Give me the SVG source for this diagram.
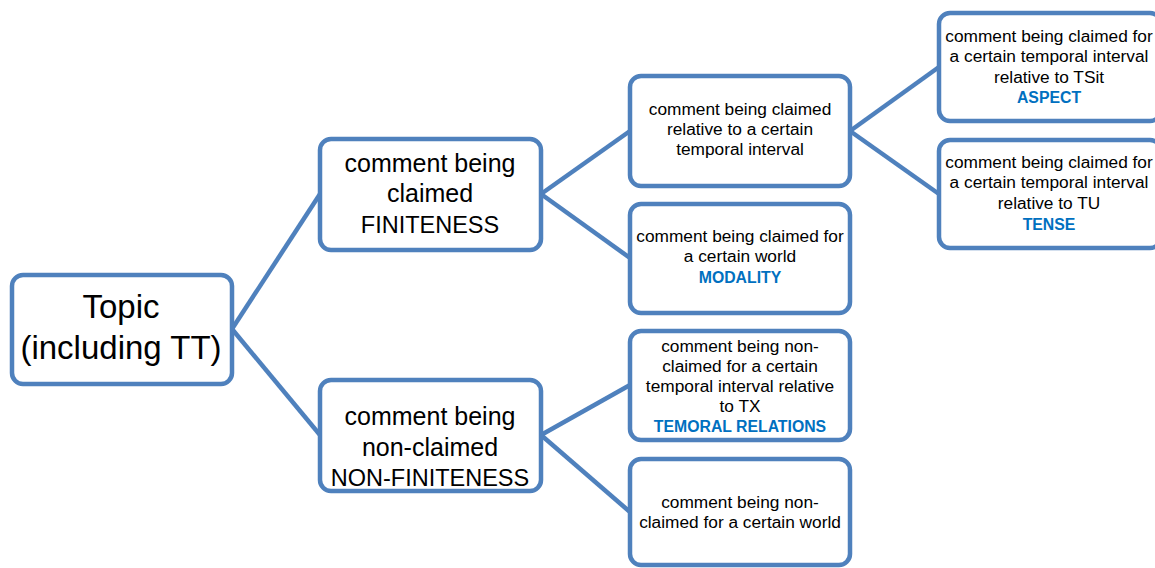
<svg xmlns="http://www.w3.org/2000/svg" width="1155" height="568" viewBox="0 0 1155 568">
<style>
.box{fill:#fff;stroke:#4F81BD;stroke-width:4.5}
.con line{stroke:#4F81BD;stroke-width:4.5}
text{font-family:"Liberation Sans",Arial,sans-serif;fill:#000;text-anchor:middle}
.big{font-size:33px}
.mid{font-size:25px}
.cap{font-size:23.5px}
.sm{font-size:17.3px}
.bl{fill:#0070C0;font-weight:bold;font-size:15.8px}
</style>
<rect width="1155" height="568" fill="#fff"/>
<g class="con">
<line x1="232" y1="329" x2="320" y2="194"/>
<line x1="232" y1="329" x2="320" y2="435"/>
<line x1="541" y1="194" x2="630" y2="131"/>
<line x1="541" y1="194" x2="630" y2="258"/>
<line x1="541" y1="435" x2="630" y2="385"/>
<line x1="541" y1="435" x2="630" y2="512"/>
<line x1="850" y1="131" x2="939" y2="67"/>
<line x1="850" y1="131" x2="939" y2="194"/>
</g>
<g id="topic">
<rect class="box" x="12" y="275" width="220" height="109" rx="11"/>
<text class="big" x="121" y="318">Topic</text>
<text class="big" x="121" y="359">(including TT)</text>
</g>
<g id="finiteness">
<rect class="box" x="320" y="139" width="221" height="111" rx="11"/>
<text class="mid" x="430" y="172">comment being</text>
<text class="mid" x="430" y="202">claimed</text>
<text class="cap" x="430" y="233">FINITENESS</text>
</g>
<g id="nonfiniteness">
<rect class="box" x="320" y="380" width="221" height="111" rx="11"/>
<text class="mid" x="430" y="425">comment being</text>
<text class="mid" x="430" y="456">non-claimed</text>
<text class="cap" x="430" y="486">NON-FINITENESS</text>
</g>
<g id="temporal">
<rect class="box" x="630" y="76" width="220" height="110" rx="11"/>
<text class="sm" x="740" y="115">comment being claimed</text>
<text class="sm" x="740" y="135">relative to a certain</text>
<text class="sm" x="740" y="155">temporal interval</text>
</g>
<g id="modality">
<rect class="box" x="630" y="204" width="220" height="109" rx="11"/>
<text class="sm" x="740" y="242">comment being claimed for</text>
<text class="sm" x="740" y="262">a certain world</text>
<text class="sm bl" x="740" y="283">MODALITY</text>
</g>
<g id="temoral-relations">
<rect class="box" x="630" y="331" width="220" height="109" rx="11"/>
<text class="sm" x="740" y="352">comment being non-</text>
<text class="sm" x="740" y="372">claimed for a certain</text>
<text class="sm" x="740" y="392">temporal interval relative</text>
<text class="sm" x="740" y="412">to TX</text>
<text class="sm bl" x="740" y="432">TEMORAL RELATIONS</text>
</g>
<g id="nonclaimed-world">
<rect class="box" x="630" y="459" width="220" height="106" rx="11"/>
<text class="sm" x="740" y="508">comment being non-</text>
<text class="sm" x="740" y="528">claimed for a certain world</text>
</g>
<g id="aspect">
<rect class="box" x="939" y="13" width="222" height="108" rx="11"/>
<text class="sm" x="1049" y="42">comment being claimed for</text>
<text class="sm" x="1049" y="62">a certain temporal interval</text>
<text class="sm" x="1049" y="83">relative to TSit</text>
<text class="sm bl" x="1049" y="103">ASPECT</text>
</g>
<g id="tense">
<rect class="box" x="939" y="140" width="222" height="108" rx="11"/>
<text class="sm" x="1049" y="168">comment being claimed for</text>
<text class="sm" x="1049" y="188">a certain temporal interval</text>
<text class="sm" x="1049" y="209">relative to TU</text>
<text class="sm bl" x="1049" y="230">TENSE</text>
</g>
</svg>
